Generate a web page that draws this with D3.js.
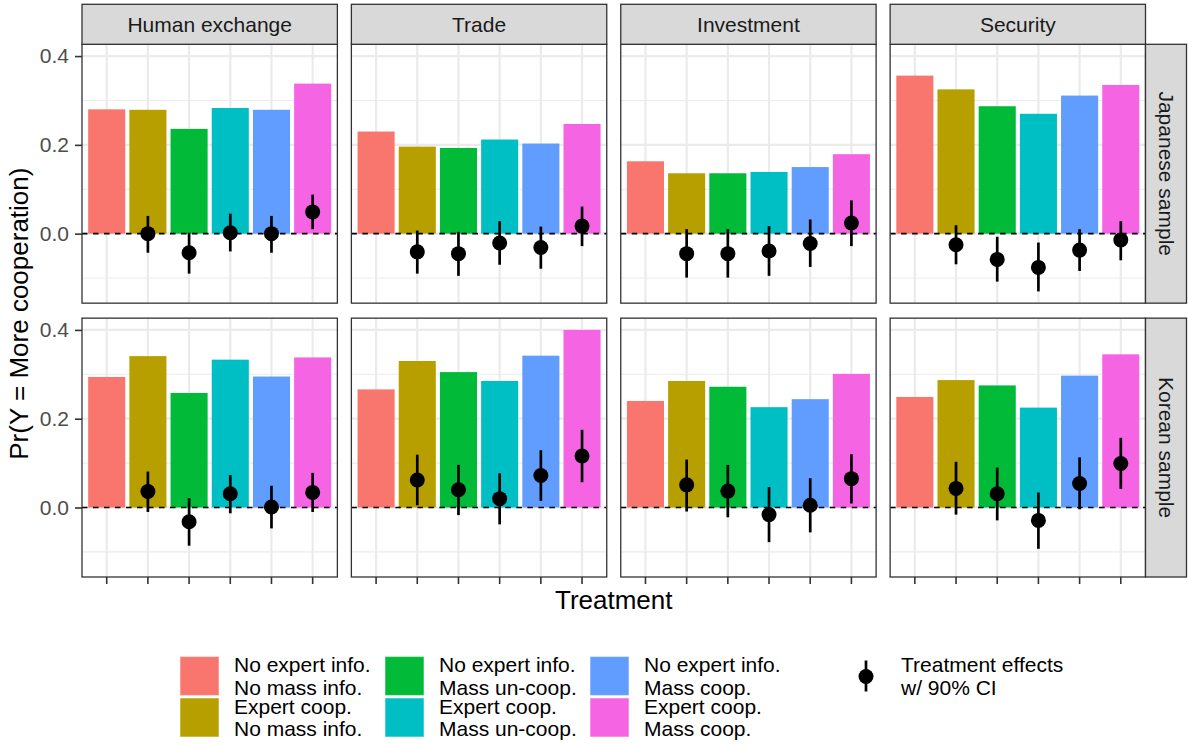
<!DOCTYPE html>
<html>
<head>
<meta charset="utf-8">
<script src="https://cdn.jsdelivr.net/npm/d3@7"></script>
<style>
  html, body { margin: 0; padding: 0; background: #ffffff; }
  text { font-family: "Liberation Sans", Arial, Helvetica, sans-serif; }
</style>
</head>
<body>
<script>
// ---- data -------------------------------------------------------------
const issues = ["Human exchange", "Trade", "Investment", "Security"];
const samples = ["Japanese sample", "Korean sample"];

const treatmentLabels = [
  ["No expert info.", "No mass info."],
  ["Expert coop.", "No mass info."],
  ["No expert info.", "Mass un-coop."],
  ["Expert coop.", "Mass un-coop."],
  ["No expert info.", "Mass coop."],
  ["Expert coop.", "Mass coop."]
];
const treatmentColors = ["#F8766D", "#B79F00", "#00BA38", "#00BFC4", "#619CFF", "#F564E3"];
const effectLabel = ["Treatment effects", "w/ 90% CI"];

// Pr(Y = More cooperation), one row per issue, one value per treatment
const probJapanese = [
  [0.280, 0.279, 0.236, 0.283, 0.279, 0.338],
  [0.230, 0.196, 0.193, 0.212, 0.203, 0.247],
  [0.163, 0.136, 0.136, 0.139, 0.150, 0.179],
  [0.356, 0.325, 0.287, 0.270, 0.311, 0.335]
];
const probKorean = [
  [0.294, 0.341, 0.258, 0.333, 0.295, 0.338],
  [0.266, 0.330, 0.305, 0.285, 0.342, 0.400],
  [0.240, 0.285, 0.272, 0.226, 0.244, 0.301],
  [0.249, 0.287, 0.275, 0.225, 0.297, 0.345]
];

// Treatment effects (treatments 2-6 vs. baseline) with 90% CI
const effectJapanese = [
  [0.000, -0.043, 0.002, 0.000, 0.049],
  [-0.041, -0.045, -0.021, -0.031, 0.017],
  [-0.045, -0.045, -0.039, -0.022, 0.024],
  [-0.025, -0.058, -0.076, -0.037, -0.014]
];
const lowerJapanese = [
  [-0.043, -0.090, -0.040, -0.043, 0.010],
  [-0.090, -0.095, -0.070, -0.079, -0.028],
  [-0.099, -0.099, -0.095, -0.075, -0.028],
  [-0.069, -0.108, -0.130, -0.084, -0.060]
];
const upperJapanese = [
  [0.040, 0.002, 0.045, 0.040, 0.088],
  [0.007, 0.004, 0.028, 0.016, 0.061],
  [0.010, 0.010, 0.017, 0.032, 0.075],
  [0.019, -0.007, -0.020, 0.010, 0.028]
];
const effectKorean = [
  [0.036, -0.032, 0.031, 0.001, 0.034],
  [0.062, 0.040, 0.020, 0.072, 0.116],
  [0.051, 0.037, -0.016, 0.005, 0.065],
  [0.043, 0.031, -0.029, 0.054, 0.099]
];
const lowerKorean = [
  [-0.010, -0.086, -0.013, -0.047, -0.010],
  [0.005, -0.017, -0.038, 0.015, 0.057],
  [-0.009, -0.022, -0.078, -0.056, 0.009],
  [-0.016, -0.029, -0.093, -0.004, 0.042]
];
const upperKorean = [
  [0.081, 0.021, 0.073, 0.049, 0.078],
  [0.119, 0.096, 0.077, 0.129, 0.175],
  [0.108, 0.096, 0.046, 0.066, 0.120],
  [0.103, 0.090, 0.034, 0.113, 0.157]
];

const yMajor = [0, 0.2, 0.4];
const yMinor = [-0.1, 0.1, 0.3];

const probBySample = [probJapanese, probKorean];
const effBySample = [effectJapanese, effectKorean];
const loBySample = [lowerJapanese, lowerKorean];
const hiBySample = [upperJapanese, upperKorean];

// ---- layout -----------------------------------------------------------
const W = 1188, H = 745;
const plotLeft = 82, plotRight = 1145.5;
const colGap = 14, rowGap = 15;
const stripTop = 4.3, stripH = 40;
const panelTop = stripTop + stripH, panelBottom = 577;
const panelW = (plotRight - plotLeft - 3 * colGap) / 4;
const panelH = (panelBottom - panelTop - rowGap) / 2;
const rStripW = 41;

const svg = d3.select("body").append("svg")
  .attr("width", W).attr("height", H);

// shared y range over all samples, expanded by 5% on both sides
const allVals = [];
probBySample.forEach(s => s.forEach(r => allVals.push(...r, 0)));
loBySample.forEach(s => s.forEach(r => allVals.push(...r)));
hiBySample.forEach(s => s.forEach(r => allVals.push(...r)));
const yMin = d3.min(allVals), yMax = d3.max(allVals);
const pad = (yMax - yMin) * 0.05;
const yDomain = [yMin - pad, yMax + pad];

const x = d3.scaleBand()
  .domain(d3.range(treatmentLabels.length))
  .range([0, panelW])
  .paddingInner(0.1)
  .paddingOuter(0.15);
const xc = i => x(i) + x.bandwidth() / 2;

samples.forEach((sample, si) => {
  const top = panelTop + si * (panelH + rowGap);
  const y = d3.scaleLinear().domain(yDomain).range([top + panelH, top]);

  issues.forEach((issue, ii) => {
    const left = plotLeft + ii * (panelW + colGap);
    const g = svg.append("g").attr("transform", `translate(${left},0)`);

    // panel background + grid
    g.append("rect").attr("x", 0).attr("y", top).attr("width", panelW).attr("height", panelH)
      .attr("fill", "#ffffff");
    g.selectAll(".ymin").data(yMinor).join("line")
      .attr("x1", 0).attr("x2", panelW)
      .attr("y1", d => y(d)).attr("y2", d => y(d))
      .attr("stroke", "#ebebeb").attr("stroke-width", 1.1);
    g.selectAll(".ymaj").data(yMajor).join("line")
      .attr("x1", 0).attr("x2", panelW)
      .attr("y1", d => y(d)).attr("y2", d => y(d))
      .attr("stroke", "#ebebeb").attr("stroke-width", 2.2);
    g.selectAll(".xmaj").data(x.domain()).join("line")
      .attr("x1", d => xc(d)).attr("x2", d => xc(d))
      .attr("y1", top).attr("y2", top + panelH)
      .attr("stroke", "#ebebeb").attr("stroke-width", 2.2);

    // bars
    const probs = probBySample[si][ii];
    g.selectAll(".bar").data(probs).join("rect")
      .attr("x", (d, i) => x(i))
      .attr("width", x.bandwidth())
      .attr("y", d => y(d))
      .attr("height", d => y(0) - y(d))
      .attr("fill", (d, i) => treatmentColors[i]);

    // reference line at zero
    g.append("line")
      .attr("x1", 0).attr("x2", panelW)
      .attr("y1", y(0)).attr("y2", y(0))
      .attr("stroke", "#000000").attr("stroke-width", 1.6)
      .attr("stroke-dasharray", "5.5,5.5");

    // treatment effects with CI
    const eff = effBySample[si][ii].map((e, k) => ({
      i: k + 1, e, lo: loBySample[si][ii][k], hi: hiBySample[si][ii][k]
    }));
    g.selectAll(".ci").data(eff).join("line")
      .attr("x1", d => xc(d.i)).attr("x2", d => xc(d.i))
      .attr("y1", d => y(d.lo)).attr("y2", d => y(d.hi))
      .attr("stroke", "#000000").attr("stroke-width", 2.7);
    g.selectAll(".pt").data(eff).join("circle")
      .attr("cx", d => xc(d.i)).attr("cy", d => y(d.e))
      .attr("r", 7.5).attr("fill", "#000000");

    // panel border
    g.append("rect").attr("x", 0).attr("y", top).attr("width", panelW).attr("height", panelH)
      .attr("fill", "none").attr("stroke", "#333333").attr("stroke-width", 1.3);

    // column strips on the top row
    if (si === 0) {
      g.append("rect").attr("x", 0).attr("y", stripTop).attr("width", panelW).attr("height", stripH)
        .attr("fill", "#d9d9d9").attr("stroke", "#333333").attr("stroke-width", 1.3);
      g.append("text")
        .attr("x", panelW / 2).attr("y", stripTop + stripH / 2)
        .attr("dy", "0.35em")
        .attr("text-anchor", "middle")
        .attr("font-size", 21).attr("fill", "#1a1a1a")
        .text(issue);
    }

    // x axis ticks on the bottom row (no labels)
    if (si === samples.length - 1) {
      const ax = g.append("g").attr("transform", `translate(0,${top + panelH})`)
        .call(d3.axisBottom(x).tickSize(7).tickFormat(""));
      ax.select(".domain").remove();
      ax.selectAll(".tick line").attr("stroke", "#333333").attr("stroke-width", 1.6);
    }
  });

  // y axis on the left column
  const ay = svg.append("g").attr("transform", `translate(${plotLeft},0)`)
    .call(d3.axisLeft(y).tickValues(yMajor).tickSize(7).tickPadding(6).tickFormat(d3.format(".1f")));
  ay.select(".domain").remove();
  ay.selectAll(".tick line").attr("stroke", "#333333").attr("stroke-width", 1.6);
  ay.selectAll(".tick text")
    .attr("font-family", "Liberation Sans, Arial, sans-serif")
    .attr("font-size", 21).attr("fill", "#4d4d4d");

  // row strip on the right
  svg.append("rect").attr("x", plotRight).attr("y", top).attr("width", rStripW).attr("height", panelH)
    .attr("fill", "#d9d9d9").attr("stroke", "#333333").attr("stroke-width", 1.3);
  svg.append("text")
    .attr("transform", `translate(${plotRight + rStripW / 2},${top + panelH / 2}) rotate(90)`)
    .attr("dy", "0.35em")
    .attr("text-anchor", "middle")
    .attr("font-size", 21).attr("fill", "#1a1a1a")
    .text(sample);
});

// axis titles
svg.append("text")
  .attr("x", (plotLeft + plotRight) / 2).attr("y", 609)
  .attr("text-anchor", "middle")
  .attr("font-size", 26).attr("fill", "#000000")
  .text("Treatment");
svg.append("text")
  .attr("transform", `translate(28,${(panelTop + panelBottom) / 2 + 3}) rotate(-90)`)
  .attr("text-anchor", "middle")
  .attr("font-size", 26).attr("fill", "#000000")
  .text("Pr(Y = More cooperation)");

// ---- legend -----------------------------------------------------------
const legLeft = 180, legTop = 656.5, keyW = 39, keyH = 39, rowStep = 41.5, colStep = 205;
const leg = svg.append("g");
const items = leg.selectAll(".key").data(treatmentLabels).join("g")
  .attr("transform", (d, i) =>
    `translate(${legLeft + Math.floor(i / 2) * colStep},${legTop + (i % 2) * rowStep})`);
items.append("rect")
  .attr("width", keyW).attr("height", keyH)
  .attr("fill", (d, i) => treatmentColors[i])
  .attr("stroke", "#ffffff").attr("stroke-opacity", 0.45).attr("stroke-width", 1.2);
items.append("text")
  .attr("x", keyW + 15).attr("y", 15.5)
  .attr("font-size", 21).attr("fill", "#000000")
  .selectAll("tspan").data(d => d).join("tspan")
  .attr("x", keyW + 15).attr("dy", (d, j) => j === 0 ? 0 : 22.5)
  .text(d => d);

const pLeg = svg.append("g").attr("transform", "translate(866,676.5)");
pLeg.append("line").attr("x1", 0).attr("x2", 0).attr("y1", -16).attr("y2", 15)
  .attr("stroke", "#000000").attr("stroke-width", 2.7);
pLeg.append("circle").attr("r", 7.5).attr("fill", "#000000");
pLeg.append("text")
  .attr("font-size", 21).attr("fill", "#000000")
  .selectAll("tspan").data(effectLabel).join("tspan")
  .attr("x", 35).attr("y", (d, j) => -4.5 + j * 23)
  .text(d => d);
</script>
</body>
</html>
